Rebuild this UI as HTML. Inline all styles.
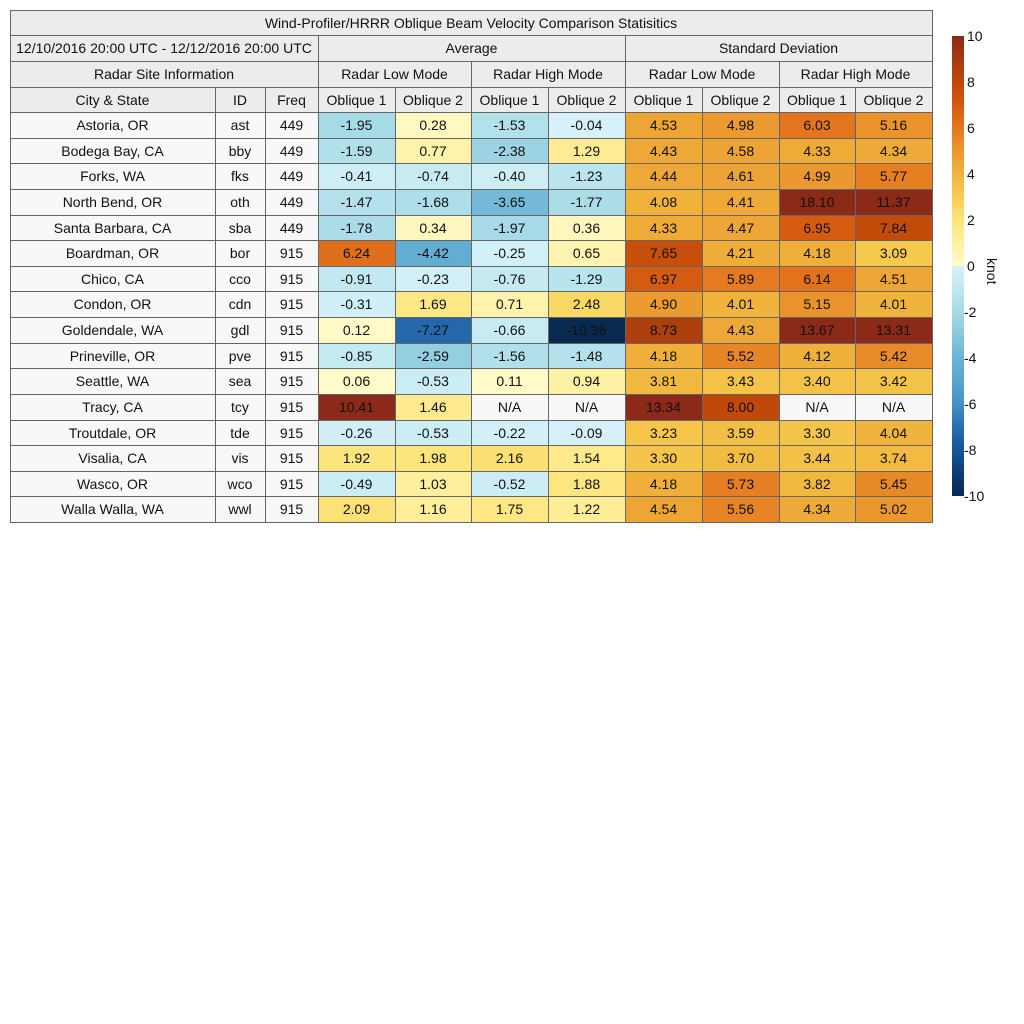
<!DOCTYPE html>
<html><head><meta charset="utf-8"><style>
body{margin:0;width:1024px;height:1024px;background:#fff;position:relative;font-family:"Liberation Sans",sans-serif;overflow:hidden}
.c{position:absolute;box-sizing:border-box;border:1px solid #666;display:flex;align-items:center;justify-content:center;font-size:14px;color:#111;margin:-0.5px 0 0 -0.5px}
.h{background:#ececec}
.l{position:absolute;font-size:14px;color:#111}
</style></head><body>
<div id="t"></div>
<div style="position:absolute;left:952px;top:36px;width:12px;height:230px;background:linear-gradient(to top,#fffbcc,#fff0a0 10%,#fde47a 20%,#f6cc50 30%,#f0b43c 40%,#eb9830 50%,#e4761e 60%,#d45a10 70%,#c04808 80%,#a63a10 90%,#8b2a18)"></div>
<div style="position:absolute;left:952px;top:266px;width:12px;height:230px;background:linear-gradient(to bottom,#d8f2fa,#c0e8f0 10%,#a6d9e6 20%,#88c8de 30%,#6ab4d6 40%,#5aa4ce 50%,#4690c4 60%,#2a6eb0 70%,#15559a 80%,#0c3c74 90%,#082a50)"></div>
<div class="l" style="left:967px;top:28px">10</div>
<div class="l" style="left:967px;top:74px">8</div>
<div class="l" style="left:967px;top:120px">6</div>
<div class="l" style="left:967px;top:166px">4</div>
<div class="l" style="left:967px;top:212px">2</div>
<div class="l" style="left:967px;top:258px">0</div>
<div class="l" style="left:964px;top:304px">-2</div>
<div class="l" style="left:964px;top:350px">-4</div>
<div class="l" style="left:964px;top:396px">-6</div>
<div class="l" style="left:964px;top:442px">-8</div>
<div class="l" style="left:964px;top:488px">-10</div>
<div class="l" style="left:978px;top:258px;transform:rotate(90deg);transform-origin:left top;left:1000px">knot</div>
<script>
const P=[[0,'fffbcc'],[1,'fff0a0'],[2,'fde47a'],[3,'f6cc50'],[4,'f0b43c'],[5,'eb9830'],[6,'e4761e'],[7,'d45a10'],[8,'c04808'],[9,'a63a10'],[10,'8b2a18']];
const N=[[0,'d8f2fa'],[1,'c0e8f0'],[2,'a6d9e6'],[3,'88c8de'],[4,'6ab4d6'],[5,'5aa4ce'],[6,'4690c4'],[7,'2a6eb0'],[8,'15559a'],[9,'0c3c74'],[10,'082a50']];
function col(v){if(isNaN(v))return'#f8f8f8';let s=v<0?N:P;let a=Math.min(Math.abs(v),10);let i=Math.min(Math.floor(a),9),f=a-i;
let A=s[i][1],B=s[i+1][1];let r=[0,2,4].map(k=>Math.round(parseInt(A.substr(k,2),16)*(1-f)+parseInt(B.substr(k,2),16)*f));return`rgb(${r})`}
let h='';const X=[10,215,265,318,395,471,548,625,702,779,855,932];
function cell(x1,y1,x2,y2,t,bg){h+=`<div class="c" style="left:${x1}px;top:${y1}px;width:${x2-x1+1}px;height:${y2-y1+1}px;background:${bg}">${t}</div>`}
const g='#ececec';
cell(10,10,932,35,'Wind-Profiler/HRRR Oblique Beam Velocity Comparison Statisitics',g);
cell(10,35,318,61,'12/10/2016 20:00 UTC - 12/12/2016 20:00 UTC',g);
cell(318,35,625,61,'Average',g);cell(625,35,932,61,'Standard Deviation',g);
cell(10,61,318,87,'Radar Site Information',g);
['Radar Low Mode','Radar High Mode','Radar Low Mode','Radar High Mode'].forEach((t,i)=>cell(X[3+2*i],61,X[5+2*i],87,t,g));
['City &amp; State','ID','Freq','Oblique 1','Oblique 2','Oblique 1','Oblique 2','Oblique 1','Oblique 2','Oblique 1','Oblique 2'].forEach((t,i)=>cell(X[i],87,X[i+1],112,t,g));
const D=`Astoria, OR|ast|449|-1.95|0.28|-1.53|-0.04|4.53|4.98|6.03|5.16
Bodega Bay, CA|bby|449|-1.59|0.77|-2.38|1.29|4.43|4.58|4.33|4.34
Forks, WA|fks|449|-0.41|-0.74|-0.40|-1.23|4.44|4.61|4.99|5.77
North Bend, OR|oth|449|-1.47|-1.68|-3.65|-1.77|4.08|4.41|18.10|11.37
Santa Barbara, CA|sba|449|-1.78|0.34|-1.97|0.36|4.33|4.47|6.95|7.84
Boardman, OR|bor|915|6.24|-4.42|-0.25|0.65|7.65|4.21|4.18|3.09
Chico, CA|cco|915|-0.91|-0.23|-0.76|-1.29|6.97|5.89|6.14|4.51
Condon, OR|cdn|915|-0.31|1.69|0.71|2.48|4.90|4.01|5.15|4.01
Goldendale, WA|gdl|915|0.12|-7.27|-0.66|-10.36|8.73|4.43|13.67|13.31
Prineville, OR|pve|915|-0.85|-2.59|-1.56|-1.48|4.18|5.52|4.12|5.42
Seattle, WA|sea|915|0.06|-0.53|0.11|0.94|3.81|3.43|3.40|3.42
Tracy, CA|tcy|915|10.41|1.46|N/A|N/A|13.34|8.00|N/A|N/A
Troutdale, OR|tde|915|-0.26|-0.53|-0.22|-0.09|3.23|3.59|3.30|4.04
Visalia, CA|vis|915|1.92|1.98|2.16|1.54|3.30|3.70|3.44|3.74
Wasco, OR|wco|915|-0.49|1.03|-0.52|1.88|4.18|5.73|3.82|5.45
Walla Walla, WA|wwl|915|2.09|1.16|1.75|1.22|4.54|5.56|4.34|5.02`.split('\n');
D.forEach((r,j)=>{let v=r.split('|');let y1=Math.round(112+j*25.625),y2=Math.round(112+(j+1)*25.625);
v.forEach((t,i)=>cell(X[i],y1,X[i+1],y2,t,i<3?'#f8f8f8':col(parseFloat(t))))});
document.getElementById('t').innerHTML=h;
</script>
</body></html>
